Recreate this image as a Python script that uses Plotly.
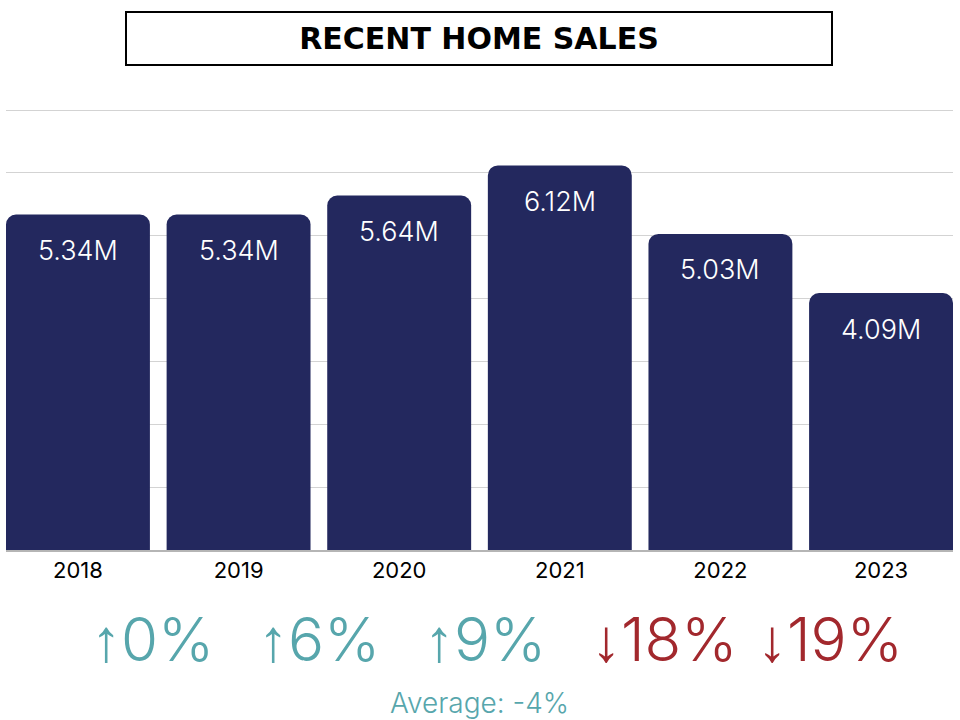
import plotly.graph_objects as go

years = ["2018", "2019", "2020", "2021", "2022", "2023"]
sales_m = [5.34, 5.34, 5.64, 6.12, 5.03, 4.09]
pct_change = [0, 6, 9, -18, -19]
average_change = -4
title_text = "RECENT HOME SALES"

NAVY = "#23285E"
TEAL = "#57A6AC"
RED = "#A2282D"
FONT = "Inter"
TITLE_FONT = "DejaVu Sans"

W, H = 960, 720
ML, MR, MT, MB = 6, 7, 107, 170
PW = W - ML - MR
PH = H - MT - MB

def px_to_paper_x(px):
    return (px - ML) / PW

def px_to_paper_y(py):
    return (H - MB - py) / PH

fig = go.Figure()
fig.add_trace(go.Bar(
    x=years, y=sales_m, marker=dict(color=NAVY, line=dict(width=0)),
    marker_cornerradius=10, hoverinfo="skip",
))

annotations = []
for i, v in enumerate(sales_m):
    annotations.append(dict(
        x=i, y=v, xref="x", yref="y", text=f"{v:.2f}M", showarrow=False,
        xanchor="center", yanchor="middle", yshift=-36,
        font=dict(family=FONT, size=27, color="white", weight=300),
    ))

for i, p in enumerate(pct_change):
    arrow = "↑" if p >= 0 else "↓"
    col = TEAL if p >= 0 else RED
    annotations.append(dict(
        x=px_to_paper_x(89 + 166.5 * i), y=px_to_paper_y(639), xref="paper", yref="paper",
        xanchor="left", yanchor="middle", showarrow=False,
        text=f"<span style='font-family:Liberation Sans'>{arrow}</span>{abs(p)}%",
        font=dict(family=FONT, size=60, color=col, weight=300),
    ))

annotations.append(dict(
    x=px_to_paper_x(480), y=px_to_paper_y(703), xref="paper", yref="paper",
    xanchor="center", yanchor="middle",
    showarrow=False, text=f"Average: {average_change}%",
    font=dict(family=FONT, size=28, color=TEAL, weight=300),
))

annotations.append(dict(
    x=px_to_paper_x(478.5), y=px_to_paper_y(38), xref="paper", yref="paper",
    xanchor="center", yanchor="middle",
    showarrow=False, text=title_text,
    font=dict(family=TITLE_FONT, size=30, color="black", weight=700),
    width=702, height=49, bordercolor="black", borderwidth=2, borderpad=1,
    bgcolor="white",
))

fig.update_layout(
    width=W, height=H, margin=dict(l=ML, r=MR, t=MT, b=MB),
    paper_bgcolor="white", plot_bgcolor="white",
    bargap=0.104, showlegend=False,
    annotations=annotations,
    xaxis=dict(type="category", range=[-0.448, 5.448], showgrid=False, showline=True,
               linecolor="#b5b5b5", linewidth=1.5, ticks="", automargin=False,
               tickfont=dict(family=FONT, size=22, color="black"), fixedrange=True),
    yaxis=dict(range=[0, 7.05], tickvals=[0, 1, 2, 3, 4, 5, 6, 7], showgrid=True,
               gridcolor="#d3d3d3", gridwidth=1,
               showticklabels=False, zeroline=False, fixedrange=True, automargin=False),
)

fig.write_html("out.html", config={"displayModeBar": False},
               post_script="document.body.style.margin='0';")
